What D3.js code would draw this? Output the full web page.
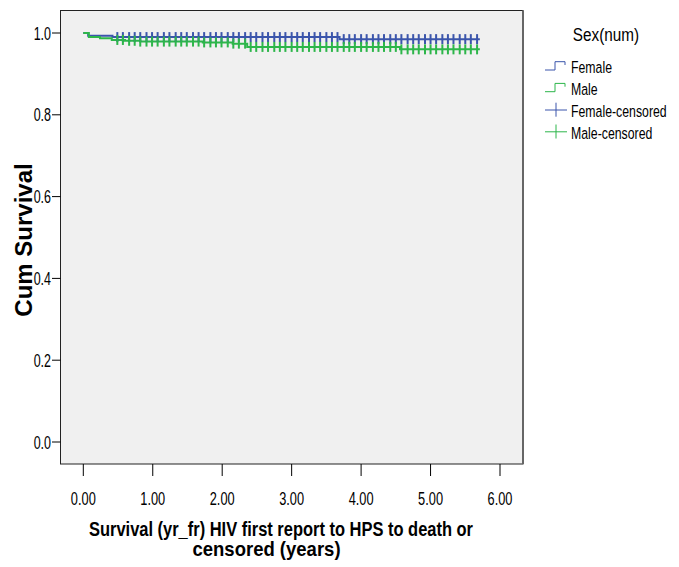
<!DOCTYPE html>
<html>
<head>
<meta charset="utf-8">
<script src="https://cdn.jsdelivr.net/npm/d3@7/dist/d3.min.js"></script>
<style>
  html, body { margin: 0; padding: 0; background: #ffffff; }
  svg { display: block; }
  text { font-family: "Liberation Sans", Arial, sans-serif; fill: #000; }
</style>
</head>
<body>
<svg id="chart" width="679" height="567"></svg>
<script>
// Kaplan-Meier survival by sex: step points [time (years), cumulative survival]
const femaleSteps = [[0, 1.0], [0.07, 0.993], [0.42, 0.990], [3.69, 0.985], [5.71, 0.985]];
const maleSteps = [[0, 1.0], [0.08, 0.990], [0.24, 0.987], [0.41, 0.983], [0.60, 0.981],
                   [0.82, 0.979], [1.72, 0.977], [2.15, 0.974], [2.36, 0.966], [4.56, 0.960], [5.71, 0.960]];

// Censoring times (years)
const femaleCensored = [0.49, 0.57, 0.66, 0.74, 0.82, 0.91, 0.99, 1.07, 1.16, 1.24, 1.33, 1.41, 1.49, 1.58,
  1.66, 1.74, 1.83, 1.91, 1.99, 2.08, 2.16, 2.24, 2.33, 2.41, 2.49, 2.58, 2.66, 2.75, 2.83, 2.91, 3.00,
  3.08, 3.16, 3.25, 3.33, 3.41, 3.50, 3.58, 3.66, 3.75, 3.83, 3.91, 4.00, 4.08, 4.17, 4.25, 4.33, 4.42,
  4.50, 4.58, 4.67, 4.75, 4.83, 4.92, 5.00, 5.08, 5.17, 5.25, 5.33, 5.42, 5.50, 5.58, 5.67];
const maleCensored = [0.49, 0.57, 0.66, 0.74, 0.82, 0.91, 0.99, 1.07, 1.16, 1.24, 1.33, 1.41, 1.49, 1.58,
  1.66, 1.74, 1.83, 1.91, 1.99, 2.08, 2.16, 2.24, 2.33, 2.41, 2.49, 2.58, 2.66, 2.75, 2.83, 2.91, 3.00,
  3.08, 3.16, 3.25, 3.33, 3.41, 3.50, 3.58, 3.66, 3.75, 3.83, 3.91, 4.00, 4.08, 4.17, 4.25, 4.33, 4.42,
  4.50, 4.58, 4.67, 4.75, 4.83, 4.92, 5.00, 5.08, 5.17, 5.25, 5.33, 5.42, 5.50, 5.58, 5.67];

const xTicks = [0, 1, 2, 3, 4, 5, 6];
const yTicks = [0, 0.2, 0.4, 0.6, 0.8, 1.0];
const legendLabels = ["Female", "Male", "Female-censored", "Male-censored"];

const BLUE = "#3b55ab";
const GREEN = "#2db64a";

const svg = d3.select("#chart");

const frame = { left: 60.5, top: 10.5, right: 523, bottom: 464 };
const x = d3.scaleLinear().domain([0, 6]).range([83.3, 500]);
const y = d3.scaleLinear().domain([0, 1]).range([442, 33]);

// plot area
svg.append("rect")
  .attr("x", frame.left).attr("y", frame.top)
  .attr("width", frame.right - frame.left).attr("height", frame.bottom - frame.top)
  .attr("fill", "#f0f0f0").attr("stroke", "#222").attr("stroke-width", 1);
svg.append("line")
  .attr("x1", frame.right).attr("x2", frame.right)
  .attr("y1", frame.top).attr("y2", frame.bottom)
  .attr("stroke", "#666").attr("stroke-width", 2);

// condensed, tall lettering: plain sans scaled horizontally
function condensedText(g, tx, ty, str, size, anchor, sx, sy) {
  return g.append("text")
    .attr("transform", `translate(${tx},${ty}) scale(${sx},${sy})`)
    .attr("text-anchor", anchor)
    .attr("font-size", size)
    .text(str);
}

// y axis ticks and labels
const yAxisG = svg.append("g");
yTicks.forEach(v => {
  yAxisG.append("line")
    .attr("x1", 52).attr("x2", frame.left)
    .attr("y1", y(v)).attr("y2", y(v))
    .attr("stroke", "#000").attr("stroke-width", 1);
  condensedText(yAxisG, 51, y(v) + 6.5, d3.format(".1f")(v), 16, "end", 0.78, 1.16);
});

// x axis ticks and labels
const xAxisG = svg.append("g");
xTicks.forEach(v => {
  xAxisG.append("line")
    .attr("x1", x(v)).attr("x2", x(v))
    .attr("y1", frame.bottom).attr("y2", 476)
    .attr("stroke", "#000").attr("stroke-width", 1);
  condensedText(xAxisG, x(v), 505, d3.format(".2f")(v), 16, "middle", 0.8, 1.18);
});

// axis titles
svg.append("text")
  .attr("transform", `translate(32,240) rotate(-90)`)
  .attr("text-anchor", "middle")
  .attr("font-size", 24)
  .attr("font-weight", "bold")
  .text("Cum Survival");

function fitTitle(str, cx, by, targetWidth) {
  const t = condensedText(svg, cx, by, str, 18, "middle", 1, 1.15).attr("font-weight", "bold");
  const w = t.node().getComputedTextLength();
  t.attr("transform", `translate(${cx},${by}) scale(${targetWidth / w},1.15)`);
  return t;
}
fitTitle("Survival (yr_fr) HIV first report to HPS to death or", 281, 536, 384);
fitTitle("censored (years)", 266.5, 556, 148);

// survival curves
const stepLine = d3.line()
  .x(d => x(d[0]))
  .y(d => y(d[1]))
  .curve(d3.curveStepAfter);

function survivalAt(steps, t) {
  let s = steps[0][1];
  for (const p of steps) { if (p[0] <= t) s = p[1]; }
  return s;
}

const series = [
  { steps: femaleSteps, censored: femaleCensored, color: BLUE },
  { steps: maleSteps, censored: maleCensored, color: GREEN }
];

series.forEach(sr => {
  svg.append("path")
    .datum(sr.steps)
    .attr("d", stepLine)
    .attr("fill", "none")
    .attr("stroke", sr.color)
    .attr("stroke-width", 2);
});

series.forEach(sr => {
  svg.append("g").selectAll("line")
    .data(sr.censored)
    .join("line")
    .attr("x1", d => x(d)).attr("x2", d => x(d))
    .attr("y1", d => y(survivalAt(sr.steps, d)) - 5)
    .attr("y2", d => y(survivalAt(sr.steps, d)) + 5)
    .attr("stroke", sr.color)
    .attr("stroke-width", 2);
});

// legend
const leg = svg.append("g");
condensedText(leg, 606, 41, "Sex(num)", 18, "middle", 0.85, 1.05);
const rowBase = [73.3, 95, 116.7, 138.5];
const legColors = [BLUE, GREEN, BLUE, GREEN];
legendLabels.forEach((lab, i) => {
  const b = rowBase[i];
  if (i < 2) {
    leg.append("path")
      .attr("d", `M545,${b - 3.3}H555V${b - 11.6}H565V${b - 8.3}`)
      .attr("fill", "none").attr("stroke", legColors[i]).attr("stroke-width", 1);
  } else {
    leg.append("path")
      .attr("d", `M545,${b - 6.7}H567M556,${b - 14}V${b}`)
      .attr("fill", "none").attr("stroke", legColors[i]).attr("stroke-width", 1);
  }
  condensedText(leg, 571, b, lab, 15, "start", 0.82, 1.12);
});
</script>
</body>
</html>
